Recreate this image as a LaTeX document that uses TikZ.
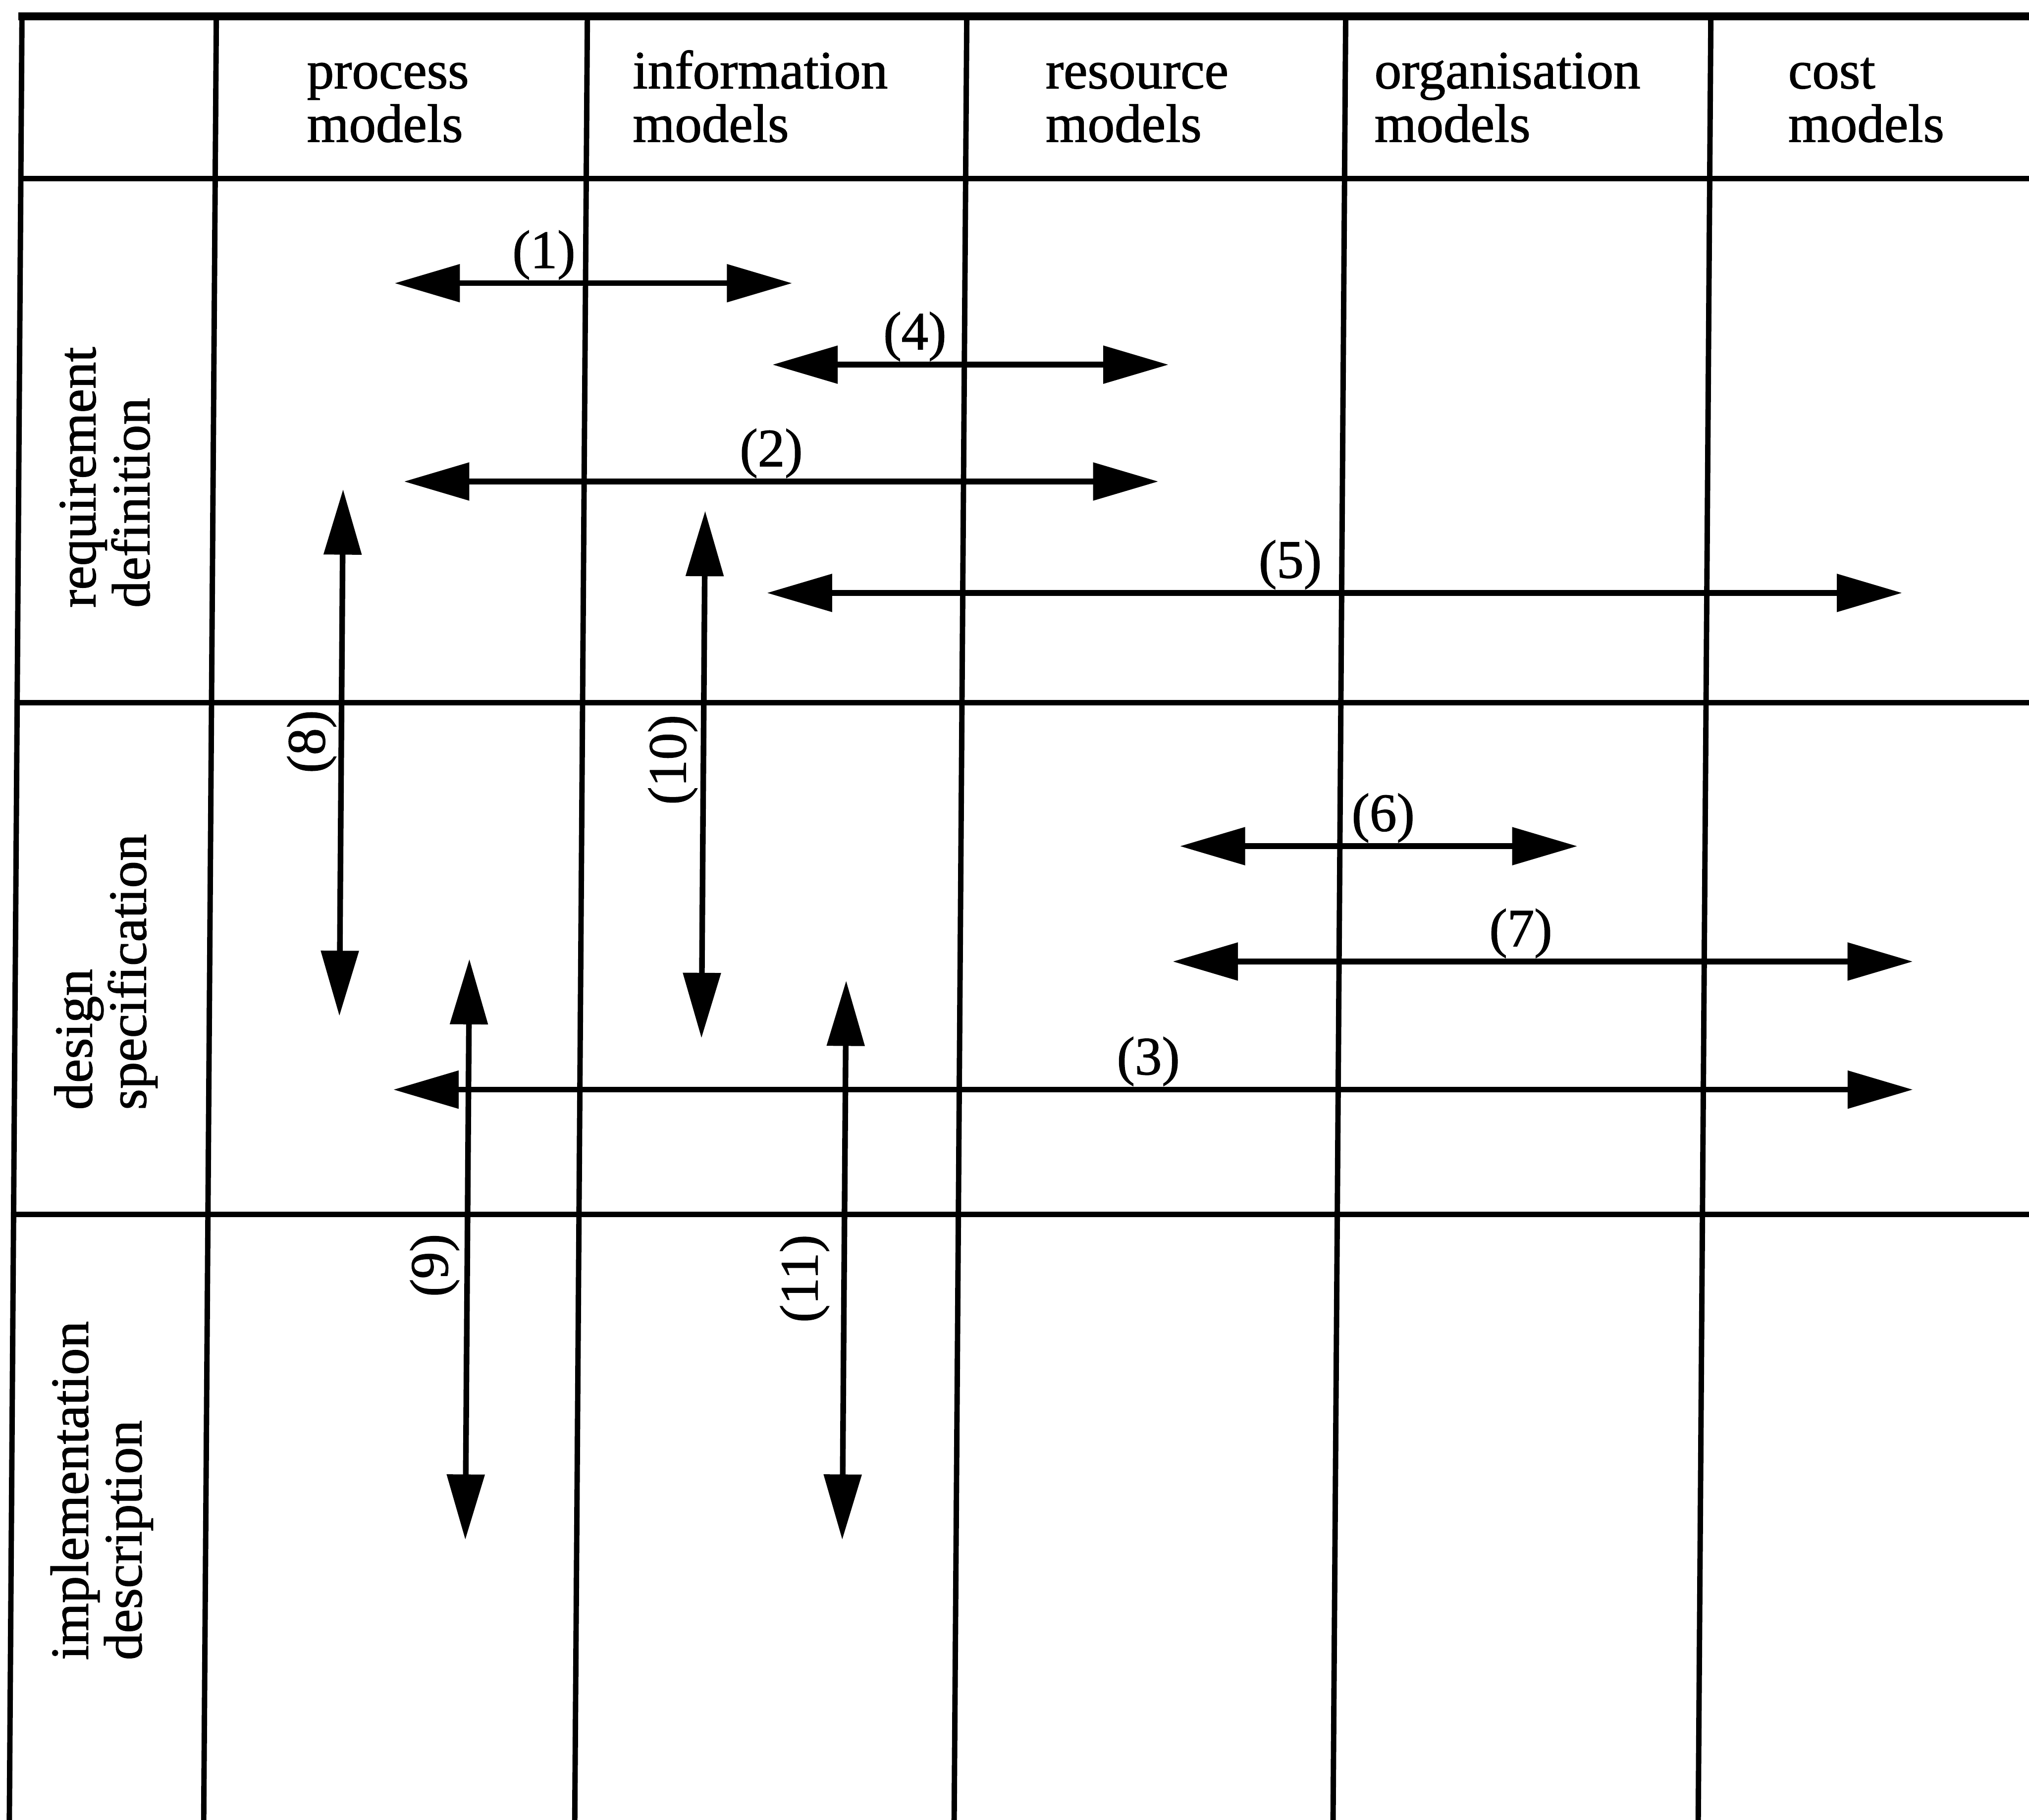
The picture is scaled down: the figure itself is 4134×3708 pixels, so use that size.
\documentclass[tikz,border=0pt]{standalone}
\usepackage{fontspec}
\setmainfont[FakeBold=1.2]{Liberation Serif}
\usetikzlibrary{arrows.meta}
\newcommand{\cellfont}{\fontsize{31.3pt}{30.9pt}\selectfont}
\newcommand{\twolines}[2]{\begin{tabular}[t]{@{}l@{}}#1\\#2\end{tabular}}
\begin{document}
\begin{tikzpicture}[x=0.1mm,y=-0.1mm,
  gridline/.style={line width=1.1mm},
  borderline/.style={line width=1.6mm},
  biarrow/.style={line width=1.15mm,
    {Triangle[length=13.3mm,width=7.5mm]}-{Triangle[length=13.3mm,width=7.5mm]}},
  headlabel/.style={anchor=base west, inner sep=0pt, font=\cellfont},
  sidelabel/.style={anchor=base west, inner sep=0pt, rotate=90, font=\cellfont},
  numlabel/.style={anchor=base, inner sep=0pt, font=\cellfont},
  vnumlabel/.style={anchor=base, inner sep=0pt, rotate=90, font=\cellfont}]

\useasboundingbox (0,0) rectangle (4134,3708);
\clip (0,0) rectangle (4134,3708);

\begin{scope}[xslant=0.007]
  % table frame and grid
  \draw[borderline] (38,33) -- (4250,33);
  \draw[gridline] (45,28) -- (45,3800);
  \foreach \gx in {441,1197,1970,2742,3486}
    \draw[gridline] (\gx,33) -- (\gx,3800);
  \foreach \gy in {364,1432,2474}
    \draw[gridline] (45,\gy) -- (4250,\gy);

  % column headings
  \node[headlabel] (hproc) at (626,180)  {\twolines{process}{models}};
  \node[headlabel] (hinfo) at (1290,180) {\twolines{information}{models}};
  \node[headlabel] (hres)  at (2131,180) {\twolines{resource}{models}};
  \node[headlabel] (horg)  at (2801,180) {\twolines{organisation}{models}};
  \node[headlabel] (hcost) at (3644,180) {\twolines{cost}{models}};

  % row headings
  \node[sidelabel] (rreq)  at (203,1239) {\twolines{requirement}{definition}};
  \node[sidelabel] (rdes)  at (203,2262) {\twolines{design}{specification}};
  \node[sidelabel] (rimpl) at (203,3383) {\twolines{implementation}{description}};

  % end points of the relations
  \coordinate (a1l) at (808,577);   \coordinate (a1r) at (1618,577);
  \coordinate (a4l) at (1579,743);  \coordinate (a4r) at (2386,743);
  \coordinate (a2l) at (830,981);   \coordinate (a2r) at (2367,981);
  \coordinate (a5l) at (1571,1208); \coordinate (a5r) at (3884,1208);
  \coordinate (a6l) at (2416,1724); \coordinate (a6r) at (3226,1724);
  \coordinate (a7l) at (2403,1959); \coordinate (a7r) at (3911,1959);
  \coordinate (a3l) at (817,2220);  \coordinate (a3r) at (3913,2220);
  \coordinate (a8t) at (706,997);   \coordinate (a8b) at (706,2070);
  \coordinate (a10t) at (1444,1041); \coordinate (a10b) at (1444,2115);
  \coordinate (a9t) at (970,1954);  \coordinate (a9b) at (970,3137);
  \coordinate (a11t) at (1738,1998); \coordinate (a11b) at (1738,3137);

  % relations
  \draw[biarrow] (a1l) -- (a1r);
  \draw[biarrow] (a4l) -- (a4r);
  \draw[biarrow] (a2l) -- (a2r);
  \draw[biarrow] (a5l) -- (a5r);
  \draw[biarrow] (a6l) -- (a6r);
  \draw[biarrow] (a7l) -- (a7r);
  \draw[biarrow] (a3l) -- (a3r);
  \draw[biarrow] (a8t) -- (a8b);
  \draw[biarrow] (a10t) -- (a10b);
  \draw[biarrow] (a9t) -- (a9b);
  \draw[biarrow] (a11t) -- (a11b);

  % relation numbers
  \node[numlabel] (n1) at (1112,546)  {(1)};
  \node[numlabel] (n4) at (1869,712)  {(4)};
  \node[numlabel] (n2) at (1578,950)  {(2)};
  \node[numlabel] (n5) at (2637,1177) {(5)};
  \node[numlabel] (n6) at (2830,1693) {(6)};
  \node[numlabel] (n7) at (3112,1928) {(7)};
  \node[numlabel] (n3) at (2355,2189) {(3)};
  \node[vnumlabel] (n8)  at (672,1511)  {(8)};
  \node[vnumlabel] (n10) at (1408,1548) {(10)};
  \node[vnumlabel] (n9)  at (930,2578)  {(9)};
  \node[vnumlabel] (n11) at (1684,2605) {(11)};
\end{scope}
\end{tikzpicture}
\end{document}
